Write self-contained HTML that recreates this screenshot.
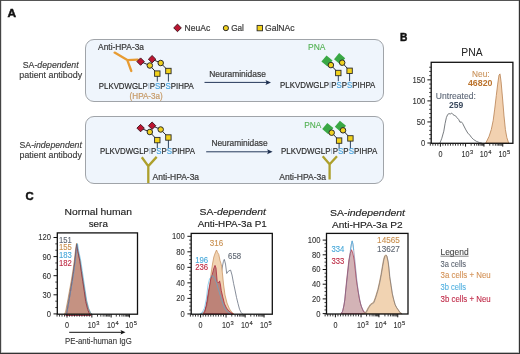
<!DOCTYPE html>
<html><head><meta charset="utf-8"><title>Figure</title>
<style>
html,body{margin:0;padding:0;background:#fff;}
body{width:520px;height:354px;overflow:hidden;}
svg{display:block;will-change:transform;}
svg text{font-family:"Liberation Sans", sans-serif;}
</style></head>
<body>
<svg width="520" height="354" viewBox="0 0 520 354">
<rect width="520" height="354" fill="#fff"/>
<rect x="0" y="0" width="520" height="1" fill="#555"/>
<rect x="0" y="0" width="1" height="354" fill="#444"/>
<rect x="1" y="1" width="1" height="352" fill="#ddd"/>
<rect x="518" y="1" width="1" height="352" fill="#d8d8d8"/>
<rect x="1" y="352" width="518" height="1" fill="#bbb"/>
<rect x="519" y="0" width="1" height="354" fill="#333"/>
<rect x="0" y="353" width="520" height="1" fill="#333"/>
<text x="7.5" y="17" font-size="11.3" fill="#111" stroke="#111" stroke-width="0.45" font-weight="bold" textLength="8.6" lengthAdjust="spacingAndGlyphs">A</text>
<text x="399.9" y="41.3" font-size="10.5" fill="#111" stroke="#111" stroke-width="0.45" font-weight="bold" textLength="7.4" lengthAdjust="spacingAndGlyphs">B</text>
<text x="25.4" y="200.1" font-size="11.6" fill="#111" stroke="#111" stroke-width="0.45" font-weight="bold" textLength="8.2" lengthAdjust="spacingAndGlyphs">C</text>
<path d="M177.5 24.099999999999998L181.3 27.9L177.5 31.7L173.7 27.9Z" fill="#BC1531" stroke="#3a1018" stroke-width="0.9"/>
<text x="184.6" y="30.6" font-size="8.4" fill="#3a3a3a" stroke="#3a3a3a" stroke-width="0.2" textLength="25.6" lengthAdjust="spacingAndGlyphs">NeuAc</text>
<circle cx="225.9" cy="28.1" r="2.6" fill="#F0D11E" stroke="#2a2a2a" stroke-width="1"/>
<text x="231.2" y="30.6" font-size="8.4" fill="#3a3a3a" stroke="#3a3a3a" stroke-width="0.2" textLength="12.7" lengthAdjust="spacingAndGlyphs">Gal</text>
<rect x="257.1" y="25.400000000000002" width="5.4" height="5.4" fill="#F2D21B" stroke="#2a2a2a" stroke-width="0.9"/>
<text x="265.0" y="30.6" font-size="8.4" fill="#3a3a3a" stroke="#3a3a3a" stroke-width="0.2" textLength="29.6" lengthAdjust="spacingAndGlyphs">GalNAc</text>
<rect x="85.5" y="39.5" width="298" height="62" rx="8.5" fill="#EFF5FC" stroke="#a0a4a9" stroke-width="1"/>
<rect x="85.5" y="116.5" width="298" height="67" rx="8.5" fill="#EFF5FC" stroke="#a0a4a9" stroke-width="1"/>
<text x="50.7" y="67.7" font-size="8.6" fill="#3a3a3a" stroke="#3a3a3a" stroke-width="0.15" text-anchor="middle" textLength="55.8" lengthAdjust="spacingAndGlyphs">SA-<tspan font-style="italic">dependent</tspan></text>
<text x="50.7" y="78.1" font-size="8.6" fill="#3a3a3a" stroke="#3a3a3a" stroke-width="0.15" text-anchor="middle" textLength="62.8" lengthAdjust="spacingAndGlyphs">patient antibody</text>
<text x="50.7" y="147.7" font-size="8.6" fill="#3a3a3a" stroke="#3a3a3a" stroke-width="0.15" text-anchor="middle" textLength="62.3" lengthAdjust="spacingAndGlyphs">SA-<tspan font-style="italic">independent</tspan></text>
<text x="50.7" y="157.9" font-size="8.6" fill="#3a3a3a" stroke="#3a3a3a" stroke-width="0.15" text-anchor="middle" textLength="62.3" lengthAdjust="spacingAndGlyphs">patient antibody</text>
<text x="98.1" y="50.2" font-size="8.2" fill="#3a3a3a" stroke="#3a3a3a" stroke-width="0.2" textLength="45.9" lengthAdjust="spacingAndGlyphs">Anti-HPA-3a</text>
<path d="M114.6 52.6L127.3 60.1L131.3 71M127.3 60.1L137.7 59.6" fill="none" stroke="#E79B32" stroke-width="2.3" stroke-linecap="round" stroke-linejoin="round"/>
<line x1="140.6" y1="61.6" x2="149.8" y2="65.5" stroke="#2a2a2a" stroke-width="1.0"/>
<line x1="149.8" y1="65.5" x2="157.3" y2="73.6" stroke="#2a2a2a" stroke-width="1.0"/>
<line x1="152.1" y1="59.2" x2="160.7" y2="63" stroke="#2a2a2a" stroke-width="1.0"/>
<line x1="160.7" y1="63" x2="168.4" y2="71.0" stroke="#2a2a2a" stroke-width="1.0"/>
<line x1="157.3" y1="73.6" x2="157.3" y2="81.6" stroke="#2d4460" stroke-width="1.0"/>
<line x1="168.4" y1="71.0" x2="168.4" y2="81.6" stroke="#2d4460" stroke-width="1.0"/>
<path d="M140.6 57.9L144.29999999999998 61.6L140.6 65.3L136.9 61.6Z" fill="#BC1531" stroke="#3a1018" stroke-width="0.9"/>
<path d="M152.1 55.5L155.79999999999998 59.2L152.1 62.900000000000006L148.4 59.2Z" fill="#BC1531" stroke="#3a1018" stroke-width="0.9"/>
<circle cx="149.8" cy="65.5" r="2.75" fill="#F0D11E" stroke="#2a2a2a" stroke-width="1"/>
<circle cx="160.7" cy="63" r="2.75" fill="#F0D11E" stroke="#2a2a2a" stroke-width="1"/>
<rect x="154.60000000000002" y="70.89999999999999" width="5.4" height="5.4" fill="#F2D21B" stroke="#2a2a2a" stroke-width="0.9"/>
<rect x="165.70000000000002" y="68.3" width="5.4" height="5.4" fill="#F2D21B" stroke="#2a2a2a" stroke-width="0.9"/>
<text x="98.8" y="88.6" font-size="8.8" fill="#2b2b2b" stroke="#2b2b2b" stroke-width="0.17" textLength="95" lengthAdjust="spacingAndGlyphs">PLKVDWGLP<tspan fill="#a8bdd2" stroke="#a8bdd2">I</tspan>P<tspan fill="#4aa3dc" stroke="#4aa3dc">S</tspan>P<tspan fill="#4aa3dc" stroke="#4aa3dc">S</tspan>PIHPA</text>
<text x="129.6" y="98.8" font-size="8.4" fill="#C79B68" stroke="#C79B68" stroke-width="0.2" textLength="33.1" lengthAdjust="spacingAndGlyphs">(HPA-3a)</text>
<line x1="204.5" y1="82.4" x2="267" y2="82.4" stroke="#26395a" stroke-width="1.0"/>
<path d="M271 82.4L265.5 79.9L266.6 82.4L265.5 84.9Z" fill="#1e3050"/>
<text x="209.2" y="76.8" font-size="8.4" fill="#3a3a3a" stroke="#3a3a3a" stroke-width="0.2" textLength="56.7" lengthAdjust="spacingAndGlyphs">Neuraminidase</text>
<text x="308.0" y="49.6" font-size="8.4" fill="#52B152" stroke="#52B152" stroke-width="0.1" textLength="17.4" lengthAdjust="spacingAndGlyphs">PNA</text>
<path d="M327.0 55.4L332.6 61.0L327.0 66.6L321.4 61.0Z" fill="#3aa845" transform="rotate(-5 327.0 61.0)"/>
<path d="M339.6 53.1L345.20000000000005 58.7L339.6 64.3L334.0 58.7Z" fill="#3aa845" transform="rotate(-5 339.6 58.7)"/>
<line x1="330.9" y1="65.1" x2="338.3" y2="73.0" stroke="#2a2a2a" stroke-width="1.0"/>
<line x1="342.2" y1="62.7" x2="349.6" y2="70.8" stroke="#2a2a2a" stroke-width="1.0"/>
<line x1="338.3" y1="73.0" x2="338.3" y2="81.2" stroke="#2d4460" stroke-width="1.0"/>
<line x1="349.6" y1="70.8" x2="349.6" y2="81.2" stroke="#2d4460" stroke-width="1.0"/>
<circle cx="330.9" cy="65.1" r="2.75" fill="#F0D11E" stroke="#2a2a2a" stroke-width="1"/>
<circle cx="342.2" cy="62.7" r="2.75" fill="#F0D11E" stroke="#2a2a2a" stroke-width="1"/>
<rect x="335.6" y="70.3" width="5.4" height="5.4" fill="#F2D21B" stroke="#2a2a2a" stroke-width="0.9"/>
<rect x="346.90000000000003" y="68.1" width="5.4" height="5.4" fill="#F2D21B" stroke="#2a2a2a" stroke-width="0.9"/>
<text x="280.1" y="87.9" font-size="8.8" fill="#2b2b2b" stroke="#2b2b2b" stroke-width="0.17" textLength="95.2" lengthAdjust="spacingAndGlyphs">PLKVDWGLP<tspan fill="#a8bdd2" stroke="#a8bdd2">I</tspan>P<tspan fill="#4aa3dc" stroke="#4aa3dc">S</tspan>P<tspan fill="#4aa3dc" stroke="#4aa3dc">S</tspan>PIHPA</text>
<line x1="140.6" y1="128.1" x2="149.8" y2="132.0" stroke="#2a2a2a" stroke-width="1.0"/>
<line x1="149.8" y1="132.0" x2="157.3" y2="140.1" stroke="#2a2a2a" stroke-width="1.0"/>
<line x1="152.1" y1="125.7" x2="160.7" y2="129.5" stroke="#2a2a2a" stroke-width="1.0"/>
<line x1="160.7" y1="129.5" x2="168.4" y2="137.5" stroke="#2a2a2a" stroke-width="1.0"/>
<line x1="157.3" y1="140.1" x2="157.3" y2="148.1" stroke="#2d4460" stroke-width="1.0"/>
<line x1="168.4" y1="137.5" x2="168.4" y2="148.1" stroke="#2d4460" stroke-width="1.0"/>
<path d="M140.6 124.39999999999999L144.29999999999998 128.1L140.6 131.79999999999998L136.9 128.1Z" fill="#BC1531" stroke="#3a1018" stroke-width="0.9"/>
<path d="M152.1 122.0L155.79999999999998 125.7L152.1 129.4L148.4 125.7Z" fill="#BC1531" stroke="#3a1018" stroke-width="0.9"/>
<circle cx="149.8" cy="132.0" r="2.75" fill="#F0D11E" stroke="#2a2a2a" stroke-width="1"/>
<circle cx="160.7" cy="129.5" r="2.75" fill="#F0D11E" stroke="#2a2a2a" stroke-width="1"/>
<rect x="154.60000000000002" y="137.4" width="5.4" height="5.4" fill="#F2D21B" stroke="#2a2a2a" stroke-width="0.9"/>
<rect x="165.70000000000002" y="134.8" width="5.4" height="5.4" fill="#F2D21B" stroke="#2a2a2a" stroke-width="0.9"/>
<text x="99.9" y="154.2" font-size="8.8" fill="#2b2b2b" stroke="#2b2b2b" stroke-width="0.17" textLength="95" lengthAdjust="spacingAndGlyphs">PLKVDWGLP<tspan fill="#a8bdd2" stroke="#a8bdd2">I</tspan>P<tspan fill="#4aa3dc" stroke="#4aa3dc">S</tspan>P<tspan fill="#4aa3dc" stroke="#4aa3dc">S</tspan>PIHPA</text>
<path d="M141.8 157.2L148.3 166.1L156.7 156.9M148.3 166.1L148.3 183" fill="none" stroke="#ADA02C" stroke-width="2.3"/>
<text x="152.6" y="180.2" font-size="8.2" fill="#3a3a3a" stroke="#3a3a3a" stroke-width="0.2" textLength="46.5" lengthAdjust="spacingAndGlyphs">Anti-HPA-3a</text>
<line x1="206.2" y1="151.8" x2="268.5" y2="151.8" stroke="#26395a" stroke-width="1.0"/>
<path d="M272.6 151.8L267.1 149.3L268.2 151.8L267.1 154.3Z" fill="#1e3050"/>
<text x="211.4" y="146.1" font-size="8.4" fill="#3a3a3a" stroke="#3a3a3a" stroke-width="0.2" textLength="56.3" lengthAdjust="spacingAndGlyphs">Neuraminidase</text>
<text x="304.2" y="127.9" font-size="8.4" fill="#52B152" stroke="#52B152" stroke-width="0.1" textLength="17.1" lengthAdjust="spacingAndGlyphs">PNA</text>
<path d="M327.8 123.0L333.40000000000003 128.6L327.8 134.2L322.2 128.6Z" fill="#3aa845" transform="rotate(-5 327.8 128.6)"/>
<path d="M340.40000000000003 120.7L346.00000000000006 126.3L340.40000000000003 131.9L334.8 126.3Z" fill="#3aa845" transform="rotate(-5 340.40000000000003 126.3)"/>
<line x1="331.7" y1="132.7" x2="339.1" y2="140.6" stroke="#2a2a2a" stroke-width="1.0"/>
<line x1="343.0" y1="130.3" x2="350.40000000000003" y2="138.39999999999998" stroke="#2a2a2a" stroke-width="1.0"/>
<line x1="339.1" y1="140.6" x2="339.1" y2="148.8" stroke="#2d4460" stroke-width="1.0"/>
<line x1="350.40000000000003" y1="138.39999999999998" x2="350.40000000000003" y2="148.8" stroke="#2d4460" stroke-width="1.0"/>
<circle cx="331.7" cy="132.7" r="2.75" fill="#F0D11E" stroke="#2a2a2a" stroke-width="1"/>
<circle cx="343.0" cy="130.3" r="2.75" fill="#F0D11E" stroke="#2a2a2a" stroke-width="1"/>
<rect x="336.40000000000003" y="137.9" width="5.4" height="5.4" fill="#F2D21B" stroke="#2a2a2a" stroke-width="0.9"/>
<rect x="347.70000000000005" y="135.7" width="5.4" height="5.4" fill="#F2D21B" stroke="#2a2a2a" stroke-width="0.9"/>
<text x="281.0" y="154.3" font-size="8.8" fill="#2b2b2b" stroke="#2b2b2b" stroke-width="0.17" textLength="96.2" lengthAdjust="spacingAndGlyphs">PLKVDWGLP<tspan fill="#a8bdd2" stroke="#a8bdd2">I</tspan>P<tspan fill="#4aa3dc" stroke="#4aa3dc">S</tspan>P<tspan fill="#4aa3dc" stroke="#4aa3dc">S</tspan>PIHPA</text>
<path d="M322.7 156.2L329.6 164.3L337 156.2M329.6 164.3L329.6 179.5" fill="none" stroke="#ADA02C" stroke-width="2.3"/>
<text x="279.2" y="180.4" font-size="8.2" fill="#3a3a3a" stroke="#3a3a3a" stroke-width="0.2" textLength="46.9" lengthAdjust="spacingAndGlyphs">Anti-HPA-3a</text>
<text x="471.9" y="56.3" font-size="10.3" fill="#222" text-anchor="middle" textLength="21.3" lengthAdjust="spacingAndGlyphs">PNA</text>
<line x1="427.4" y1="143.0" x2="431.2" y2="143.0" stroke="#111" stroke-width="1"/>
<text x="425.2" y="145.9" font-size="8.5" fill="#333" stroke="#333" stroke-width="0.1" text-anchor="end" textLength="4.25" lengthAdjust="spacingAndGlyphs">0</text>
<line x1="427.4" y1="121.95" x2="431.2" y2="121.95" stroke="#111" stroke-width="1"/>
<text x="425.2" y="124.85000000000001" font-size="8.5" fill="#333" stroke="#333" stroke-width="0.1" text-anchor="end" textLength="8.5" lengthAdjust="spacingAndGlyphs">50</text>
<line x1="427.4" y1="100.9" x2="431.2" y2="100.9" stroke="#111" stroke-width="1"/>
<text x="425.2" y="103.80000000000001" font-size="8.5" fill="#333" stroke="#333" stroke-width="0.1" text-anchor="end" textLength="12.75" lengthAdjust="spacingAndGlyphs">100</text>
<line x1="427.4" y1="79.85" x2="431.2" y2="79.85" stroke="#111" stroke-width="1"/>
<text x="425.2" y="82.75" font-size="8.5" fill="#333" stroke="#333" stroke-width="0.1" text-anchor="end" textLength="12.75" lengthAdjust="spacingAndGlyphs">150</text>
<line x1="429.2" y1="138.79" x2="431.2" y2="138.79" stroke="#111" stroke-width="0.8"/>
<line x1="429.2" y1="134.57999999999998" x2="431.2" y2="134.57999999999998" stroke="#111" stroke-width="0.8"/>
<line x1="429.2" y1="130.37" x2="431.2" y2="130.37" stroke="#111" stroke-width="0.8"/>
<line x1="429.2" y1="126.16" x2="431.2" y2="126.16" stroke="#111" stroke-width="0.8"/>
<line x1="429.2" y1="117.74" x2="431.2" y2="117.74" stroke="#111" stroke-width="0.8"/>
<line x1="429.2" y1="113.53" x2="431.2" y2="113.53" stroke="#111" stroke-width="0.8"/>
<line x1="429.2" y1="109.32" x2="431.2" y2="109.32" stroke="#111" stroke-width="0.8"/>
<line x1="429.2" y1="105.11" x2="431.2" y2="105.11" stroke="#111" stroke-width="0.8"/>
<line x1="429.2" y1="96.69" x2="431.2" y2="96.69" stroke="#111" stroke-width="0.8"/>
<line x1="429.2" y1="92.47999999999999" x2="431.2" y2="92.47999999999999" stroke="#111" stroke-width="0.8"/>
<line x1="429.2" y1="88.27" x2="431.2" y2="88.27" stroke="#111" stroke-width="0.8"/>
<line x1="429.2" y1="84.06" x2="431.2" y2="84.06" stroke="#111" stroke-width="0.8"/>
<line x1="429.2" y1="75.63999999999999" x2="431.2" y2="75.63999999999999" stroke="#111" stroke-width="0.8"/>
<line x1="429.2" y1="71.42999999999999" x2="431.2" y2="71.42999999999999" stroke="#111" stroke-width="0.8"/>
<line x1="429.2" y1="67.22" x2="431.2" y2="67.22" stroke="#111" stroke-width="0.8"/>
<path d="M439.9 143.2 L441.8 138.3 L443.8 131.2 L445.1 123.4 L446.4 117.5 L447.7 114.5 L449 113.6 L450.3 114 L451.6 113 L452.9 114.5 L454.2 115.3 L455.5 115.8 L456.8 117.5 L458.7 119.5 L460 122.3 L461.3 121.8 L462.6 123.4 L463.9 126 L465.9 129.9 L467.8 133.1 L469.8 135.1 L471.7 137.7 L473.7 139.6 L476.3 141.3 L479.5 142.6 L482 143.2" fill="none" stroke="#555a60" stroke-width="0.8"/>
<path d="M485.7 143.2 L487.3 140 L489.1 136.3 L491.3 129.5 L493.2 120.4 L494.7 109.1 L496.3 95.5 L497.7 84.1 L499 75.1 L500 73.9 L501.1 81.9 L502.7 100 L504 115.9 L505.4 129.5 L506.8 137.4 L508.3 142 L509 143.2 Z" fill="#F2D1B0" stroke="#B88050" stroke-width="0.8"/>
<rect x="431.2" y="62.3" width="81.69999999999999" height="81.00000000000001" fill="none" stroke="#111" stroke-width="1.3"/>
<line x1="440.4" y1="143.3" x2="440.4" y2="146.60000000000002" stroke="#111" stroke-width="1"/>
<line x1="465.54999999999995" y1="143.3" x2="465.54999999999995" y2="146.60000000000002" stroke="#111" stroke-width="1"/>
<line x1="483.95" y1="143.3" x2="483.95" y2="146.60000000000002" stroke="#111" stroke-width="1"/>
<line x1="502.75" y1="143.3" x2="502.75" y2="146.60000000000002" stroke="#111" stroke-width="1"/>
<line x1="471.14915791935" y1="143.3" x2="471.14915791935" y2="145.70000000000002" stroke="#222" stroke-width="0.9"/>
<line x1="474.4244553377857" y1="143.3" x2="474.4244553377857" y2="145.70000000000002" stroke="#222" stroke-width="0.9"/>
<line x1="476.7483158387001" y1="143.3" x2="476.7483158387001" y2="145.70000000000002" stroke="#222" stroke-width="0.9"/>
<line x1="478.55084208064994" y1="143.3" x2="478.55084208064994" y2="145.70000000000002" stroke="#222" stroke-width="0.9"/>
<line x1="480.02361325713576" y1="143.3" x2="480.02361325713576" y2="145.70000000000002" stroke="#222" stroke-width="0.9"/>
<line x1="481.26882354426516" y1="143.3" x2="481.26882354426516" y2="145.70000000000002" stroke="#222" stroke-width="0.9"/>
<line x1="482.3474737580501" y1="143.3" x2="482.3474737580501" y2="145.70000000000002" stroke="#222" stroke-width="0.9"/>
<line x1="483.2989106755714" y1="143.3" x2="483.2989106755714" y2="145.70000000000002" stroke="#222" stroke-width="0.9"/>
<line x1="489.74915791935" y1="143.3" x2="489.74915791935" y2="145.70000000000002" stroke="#222" stroke-width="0.9"/>
<line x1="493.0244553377857" y1="143.3" x2="493.0244553377857" y2="145.70000000000002" stroke="#222" stroke-width="0.9"/>
<line x1="495.3483158387001" y1="143.3" x2="495.3483158387001" y2="145.70000000000002" stroke="#222" stroke-width="0.9"/>
<line x1="497.15084208064997" y1="143.3" x2="497.15084208064997" y2="145.70000000000002" stroke="#222" stroke-width="0.9"/>
<line x1="498.6236132571358" y1="143.3" x2="498.6236132571358" y2="145.70000000000002" stroke="#222" stroke-width="0.9"/>
<line x1="499.8688235442652" y1="143.3" x2="499.8688235442652" y2="145.70000000000002" stroke="#222" stroke-width="0.9"/>
<line x1="500.94747375805014" y1="143.3" x2="500.94747375805014" y2="145.70000000000002" stroke="#222" stroke-width="0.9"/>
<line x1="501.8989106755714" y1="143.3" x2="501.8989106755714" y2="145.70000000000002" stroke="#222" stroke-width="0.9"/>
<line x1="442.91499999999996" y1="143.3" x2="442.91499999999996" y2="145.70000000000002" stroke="#222" stroke-width="0.9"/>
<line x1="445.42999999999995" y1="143.3" x2="445.42999999999995" y2="145.70000000000002" stroke="#222" stroke-width="0.9"/>
<line x1="447.945" y1="143.3" x2="447.945" y2="145.70000000000002" stroke="#222" stroke-width="0.9"/>
<line x1="450.46" y1="143.3" x2="450.46" y2="145.70000000000002" stroke="#222" stroke-width="0.9"/>
<line x1="452.97499999999997" y1="143.3" x2="452.97499999999997" y2="145.70000000000002" stroke="#222" stroke-width="0.9"/>
<line x1="455.48999999999995" y1="143.3" x2="455.48999999999995" y2="145.70000000000002" stroke="#222" stroke-width="0.9"/>
<line x1="458.00499999999994" y1="143.3" x2="458.00499999999994" y2="145.70000000000002" stroke="#222" stroke-width="0.9"/>
<line x1="460.52" y1="143.3" x2="460.52" y2="145.70000000000002" stroke="#222" stroke-width="0.9"/>
<line x1="463.03499999999997" y1="143.3" x2="463.03499999999997" y2="145.70000000000002" stroke="#222" stroke-width="0.9"/>
<line x1="437.885" y1="143.3" x2="437.885" y2="145.70000000000002" stroke="#222" stroke-width="0.9"/>
<line x1="435.37" y1="143.3" x2="435.37" y2="145.70000000000002" stroke="#222" stroke-width="0.9"/>
<line x1="432.85499999999996" y1="143.3" x2="432.85499999999996" y2="145.70000000000002" stroke="#222" stroke-width="0.9"/>
<line x1="430.34" y1="143.3" x2="430.34" y2="145.70000000000002" stroke="#222" stroke-width="0.9"/>
<text x="440.4" y="156.9" font-size="8.6" fill="#333" stroke="#333" stroke-width="0.12" text-anchor="middle" textLength="4.0" lengthAdjust="spacingAndGlyphs">0</text>
<text x="461.4" y="156.9" font-size="8.6" fill="#333" stroke="#333" stroke-width="0.12" textLength="8.0" lengthAdjust="spacingAndGlyphs">10</text>
<text x="469.9" y="154.0" font-size="6.0" fill="#333" stroke="#333" stroke-width="0.15" textLength="3.2" lengthAdjust="spacingAndGlyphs">3</text>
<text x="479.8" y="156.9" font-size="8.6" fill="#333" stroke="#333" stroke-width="0.12" textLength="8.0" lengthAdjust="spacingAndGlyphs">10</text>
<text x="488.3" y="154.0" font-size="6.0" fill="#333" stroke="#333" stroke-width="0.15" textLength="3.2" lengthAdjust="spacingAndGlyphs">4</text>
<text x="498.6" y="156.9" font-size="8.6" fill="#333" stroke="#333" stroke-width="0.12" textLength="8.0" lengthAdjust="spacingAndGlyphs">10</text>
<text x="507.1" y="154.0" font-size="6.0" fill="#333" stroke="#333" stroke-width="0.15" textLength="3.2" lengthAdjust="spacingAndGlyphs">5</text>
<text x="480.8" y="77.3" font-size="8.4" fill="#C9925A" stroke="#C9925A" stroke-width="0.1" text-anchor="middle" textLength="17.5" lengthAdjust="spacingAndGlyphs">Neu:</text>
<text x="480.2" y="86.3" font-size="8.6" fill="#BC742E" text-anchor="middle" font-weight="bold" textLength="24.5" lengthAdjust="spacingAndGlyphs">46820</text>
<text x="455.8" y="98.7" font-size="8.4" fill="#5b6575" stroke="#5b6575" stroke-width="0.1" text-anchor="middle" textLength="40" lengthAdjust="spacingAndGlyphs">Untreated:</text>
<text x="456.2" y="108.4" font-size="8.6" fill="#3b4a5e" text-anchor="middle" font-weight="bold" textLength="14.3" lengthAdjust="spacingAndGlyphs">259</text>
<text x="98.3" y="215.4" font-size="9.4" fill="#222" stroke="#222" stroke-width="0.14" text-anchor="middle" textLength="67.4" lengthAdjust="spacingAndGlyphs">Normal human</text>
<text x="98.3" y="227.2" font-size="9.4" fill="#222" stroke="#222" stroke-width="0.14" text-anchor="middle" textLength="19.2" lengthAdjust="spacingAndGlyphs">sera</text>
<line x1="53.5" y1="313.9" x2="57.3" y2="313.9" stroke="#111" stroke-width="1"/>
<text x="50.9" y="316.79999999999995" font-size="8.5" fill="#333" stroke="#333" stroke-width="0.1" text-anchor="end" textLength="4.25" lengthAdjust="spacingAndGlyphs">0</text>
<line x1="53.5" y1="294.79999999999995" x2="57.3" y2="294.79999999999995" stroke="#111" stroke-width="1"/>
<text x="50.9" y="297.69999999999993" font-size="8.5" fill="#333" stroke="#333" stroke-width="0.1" text-anchor="end" textLength="8.5" lengthAdjust="spacingAndGlyphs">30</text>
<line x1="53.5" y1="275.7" x2="57.3" y2="275.7" stroke="#111" stroke-width="1"/>
<text x="50.9" y="278.59999999999997" font-size="8.5" fill="#333" stroke="#333" stroke-width="0.1" text-anchor="end" textLength="8.5" lengthAdjust="spacingAndGlyphs">60</text>
<line x1="53.5" y1="256.59999999999997" x2="57.3" y2="256.59999999999997" stroke="#111" stroke-width="1"/>
<text x="50.9" y="259.49999999999994" font-size="8.5" fill="#333" stroke="#333" stroke-width="0.1" text-anchor="end" textLength="8.5" lengthAdjust="spacingAndGlyphs">90</text>
<line x1="53.5" y1="237.49999999999997" x2="57.3" y2="237.49999999999997" stroke="#111" stroke-width="1"/>
<text x="50.9" y="240.39999999999998" font-size="8.5" fill="#333" stroke="#333" stroke-width="0.1" text-anchor="end" textLength="12.75" lengthAdjust="spacingAndGlyphs">120</text>
<line x1="55.3" y1="307.5333333333333" x2="57.3" y2="307.5333333333333" stroke="#111" stroke-width="0.8"/>
<line x1="55.3" y1="301.16666666666663" x2="57.3" y2="301.16666666666663" stroke="#111" stroke-width="0.8"/>
<line x1="55.3" y1="288.4333333333333" x2="57.3" y2="288.4333333333333" stroke="#111" stroke-width="0.8"/>
<line x1="55.3" y1="282.06666666666666" x2="57.3" y2="282.06666666666666" stroke="#111" stroke-width="0.8"/>
<line x1="55.3" y1="269.3333333333333" x2="57.3" y2="269.3333333333333" stroke="#111" stroke-width="0.8"/>
<line x1="55.3" y1="262.96666666666664" x2="57.3" y2="262.96666666666664" stroke="#111" stroke-width="0.8"/>
<line x1="55.3" y1="250.2333333333333" x2="57.3" y2="250.2333333333333" stroke="#111" stroke-width="0.8"/>
<line x1="55.3" y1="243.86666666666665" x2="57.3" y2="243.86666666666665" stroke="#111" stroke-width="0.8"/>
<path d="M64.5 314.0 L65.5 312.0 L67.8 300.0 L69.6 290.0 L71.4 280.0 L73.0 270.0 L74.4 260.0 L75.5 250.0 L76.5 243.2 L77.7 250.0 L79.9 260.0 L81.4 270.0 L83.0 280.0 L84.6 290.0 L86.2 300.0 L88.3 308.0 L90.3 312.5 L92.0 314.0 Z" fill="#F1D3B2" fill-opacity="1" stroke="#C48A55" stroke-width="0.7" stroke-linejoin="round"/>
<path d="M65.8 315.5 L66.7 313.5 L68.8 301.5 L70.5 291.5 L72.1 281.5 L73.6 271.5 L74.9 261.5 L75.9 251.5 L76.8 244.7 L77.9 251.5 L79.9 261.5 L81.3 271.5 L82.8 281.5 L84.3 291.5 L85.7 301.5 L87.7 309.5 L89.5 314.0 L91.1 315.5 Z" fill="rgb(145,66,72)" fill-opacity="0.45" stroke="#9a2c40" stroke-width="0.9" stroke-linejoin="round"/>
<path d="M66.1 314.3 L67.0 312.3 L69.2 300.3 L70.9 290.3 L72.7 280.3 L74.2 270.3 L75.5 260.3 L76.5 250.3 L77.5 243.5 L78.6 250.3 L80.7 260.3 L82.2 270.3 L83.7 280.3 L85.2 290.3 L86.7 300.3 L88.7 308.3 L90.6 312.8 L92.2 314.3" fill="none" fill-opacity="1" stroke="#4FAEDD" stroke-width="0.6" stroke-linejoin="round"/>
<path d="M65.1 314.8 L66.0 312.8 L68.3 300.8 L70.0 290.8 L71.8 280.8 L73.3 270.8 L74.7 260.8 L75.7 250.8 L76.7 244.0 L77.9 250.8 L80.0 260.8 L81.5 270.8 L83.0 280.8 L84.6 290.8 L86.1 300.8 L88.1 308.8 L90.1 313.3 L91.7 314.8" fill="none" fill-opacity="1" stroke="#5f6878" stroke-width="0.5" stroke-linejoin="round"/>
<rect x="57.3" y="232.9" width="80.2" height="81.29999999999998" fill="none" stroke="#111" stroke-width="1.3"/>
<line x1="67.0" y1="314.2" x2="67.0" y2="317.5" stroke="#111" stroke-width="1"/>
<line x1="91.85000000000001" y1="314.2" x2="91.85000000000001" y2="317.5" stroke="#111" stroke-width="1"/>
<line x1="111.15" y1="314.2" x2="111.15" y2="317.5" stroke="#111" stroke-width="1"/>
<line x1="129.45" y1="314.2" x2="129.45" y2="317.5" stroke="#111" stroke-width="1"/>
<line x1="97.50936391848285" y1="314.2" x2="97.50936391848285" y2="316.59999999999997" stroke="#222" stroke-width="0.9"/>
<line x1="100.81987958872966" y1="314.2" x2="100.81987958872966" y2="316.59999999999997" stroke="#222" stroke-width="0.9"/>
<line x1="103.1687278369657" y1="314.2" x2="103.1687278369657" y2="316.59999999999997" stroke="#222" stroke-width="0.9"/>
<line x1="104.99063608151715" y1="314.2" x2="104.99063608151715" y2="316.59999999999997" stroke="#222" stroke-width="0.9"/>
<line x1="106.4792435072125" y1="314.2" x2="106.4792435072125" y2="316.59999999999997" stroke="#222" stroke-width="0.9"/>
<line x1="107.73784315226803" y1="314.2" x2="107.73784315226803" y2="316.59999999999997" stroke="#222" stroke-width="0.9"/>
<line x1="108.82809175544854" y1="314.2" x2="108.82809175544854" y2="316.59999999999997" stroke="#222" stroke-width="0.9"/>
<line x1="109.7897591774593" y1="314.2" x2="109.7897591774593" y2="316.59999999999997" stroke="#222" stroke-width="0.9"/>
<line x1="116.30936391848284" y1="314.2" x2="116.30936391848284" y2="316.59999999999997" stroke="#222" stroke-width="0.9"/>
<line x1="119.61987958872966" y1="314.2" x2="119.61987958872966" y2="316.59999999999997" stroke="#222" stroke-width="0.9"/>
<line x1="121.9687278369657" y1="314.2" x2="121.9687278369657" y2="316.59999999999997" stroke="#222" stroke-width="0.9"/>
<line x1="123.79063608151715" y1="314.2" x2="123.79063608151715" y2="316.59999999999997" stroke="#222" stroke-width="0.9"/>
<line x1="125.2792435072125" y1="314.2" x2="125.2792435072125" y2="316.59999999999997" stroke="#222" stroke-width="0.9"/>
<line x1="126.53784315226802" y1="314.2" x2="126.53784315226802" y2="316.59999999999997" stroke="#222" stroke-width="0.9"/>
<line x1="127.62809175544854" y1="314.2" x2="127.62809175544854" y2="316.59999999999997" stroke="#222" stroke-width="0.9"/>
<line x1="128.5897591774593" y1="314.2" x2="128.5897591774593" y2="316.59999999999997" stroke="#222" stroke-width="0.9"/>
<line x1="69.485" y1="314.2" x2="69.485" y2="316.59999999999997" stroke="#222" stroke-width="0.9"/>
<line x1="71.97" y1="314.2" x2="71.97" y2="316.59999999999997" stroke="#222" stroke-width="0.9"/>
<line x1="74.455" y1="314.2" x2="74.455" y2="316.59999999999997" stroke="#222" stroke-width="0.9"/>
<line x1="76.94" y1="314.2" x2="76.94" y2="316.59999999999997" stroke="#222" stroke-width="0.9"/>
<line x1="79.42500000000001" y1="314.2" x2="79.42500000000001" y2="316.59999999999997" stroke="#222" stroke-width="0.9"/>
<line x1="81.91000000000001" y1="314.2" x2="81.91000000000001" y2="316.59999999999997" stroke="#222" stroke-width="0.9"/>
<line x1="84.39500000000001" y1="314.2" x2="84.39500000000001" y2="316.59999999999997" stroke="#222" stroke-width="0.9"/>
<line x1="86.88000000000001" y1="314.2" x2="86.88000000000001" y2="316.59999999999997" stroke="#222" stroke-width="0.9"/>
<line x1="89.36500000000001" y1="314.2" x2="89.36500000000001" y2="316.59999999999997" stroke="#222" stroke-width="0.9"/>
<line x1="64.515" y1="314.2" x2="64.515" y2="316.59999999999997" stroke="#222" stroke-width="0.9"/>
<line x1="62.03" y1="314.2" x2="62.03" y2="316.59999999999997" stroke="#222" stroke-width="0.9"/>
<line x1="59.544999999999995" y1="314.2" x2="59.544999999999995" y2="316.59999999999997" stroke="#222" stroke-width="0.9"/>
<line x1="57.059999999999995" y1="314.2" x2="57.059999999999995" y2="316.59999999999997" stroke="#222" stroke-width="0.9"/>
<text x="67.0" y="328.2" font-size="8.6" fill="#333" stroke="#333" stroke-width="0.12" text-anchor="middle" textLength="4.0" lengthAdjust="spacingAndGlyphs">0</text>
<text x="87.7" y="328.2" font-size="8.6" fill="#333" stroke="#333" stroke-width="0.12" textLength="8.0" lengthAdjust="spacingAndGlyphs">10</text>
<text x="96.2" y="325.3" font-size="6.0" fill="#333" stroke="#333" stroke-width="0.15" textLength="3.2" lengthAdjust="spacingAndGlyphs">3</text>
<text x="107.0" y="328.2" font-size="8.6" fill="#333" stroke="#333" stroke-width="0.12" textLength="8.0" lengthAdjust="spacingAndGlyphs">10</text>
<text x="115.5" y="325.3" font-size="6.0" fill="#333" stroke="#333" stroke-width="0.15" textLength="3.2" lengthAdjust="spacingAndGlyphs">4</text>
<text x="125.3" y="328.2" font-size="8.6" fill="#333" stroke="#333" stroke-width="0.12" textLength="8.0" lengthAdjust="spacingAndGlyphs">10</text>
<text x="133.8" y="325.3" font-size="6.0" fill="#333" stroke="#333" stroke-width="0.15" textLength="3.2" lengthAdjust="spacingAndGlyphs">5</text>
<text x="59.1" y="243.2" font-size="8.8" fill="#5e6672" stroke="#5e6672" stroke-width="0.12" textLength="12.8" lengthAdjust="spacingAndGlyphs">151</text>
<text x="59.1" y="250.3" font-size="8.8" fill="#C99050" stroke="#C99050" stroke-width="0.12" textLength="12.8" lengthAdjust="spacingAndGlyphs">155</text>
<text x="59.1" y="258.2" font-size="8.8" fill="#49A9DA" stroke="#49A9DA" stroke-width="0.12" textLength="12.8" lengthAdjust="spacingAndGlyphs">183</text>
<text x="59.1" y="266.3" font-size="8.8" fill="#BE2C45" stroke="#BE2C45" stroke-width="0.12" textLength="12.8" lengthAdjust="spacingAndGlyphs">182</text>
<line x1="69.2" y1="332.3" x2="122" y2="332.3" stroke="#111" stroke-width="1"/>
<path d="M125.5 332.3L120.5 330.0L121.5 332.3L120.5 334.6Z" fill="#111"/>
<text x="65.0" y="343.8" font-size="9.6" fill="#333" stroke="#333" stroke-width="0.1" textLength="66.7" lengthAdjust="spacingAndGlyphs">PE-anti-human IgG</text>
<text x="232.8" y="215.4" font-size="9.4" fill="#222" stroke="#222" stroke-width="0.14" text-anchor="middle" textLength="66.4" lengthAdjust="spacingAndGlyphs">SA-<tspan font-style="italic">dependent</tspan></text>
<text x="232.3" y="226.5" font-size="9.4" fill="#222" stroke="#222" stroke-width="0.14" text-anchor="middle" textLength="69.2" lengthAdjust="spacingAndGlyphs">Anti-HPA-3a P1</text>
<line x1="187.39999999999998" y1="313.9" x2="191.2" y2="313.9" stroke="#111" stroke-width="1"/>
<text x="184.8" y="316.79999999999995" font-size="8.5" fill="#333" stroke="#333" stroke-width="0.1" text-anchor="end" textLength="4.25" lengthAdjust="spacingAndGlyphs">0</text>
<line x1="187.39999999999998" y1="298.38" x2="191.2" y2="298.38" stroke="#111" stroke-width="1"/>
<text x="184.8" y="301.28" font-size="8.5" fill="#333" stroke="#333" stroke-width="0.1" text-anchor="end" textLength="8.5" lengthAdjust="spacingAndGlyphs">20</text>
<line x1="187.39999999999998" y1="282.85999999999996" x2="191.2" y2="282.85999999999996" stroke="#111" stroke-width="1"/>
<text x="184.8" y="285.75999999999993" font-size="8.5" fill="#333" stroke="#333" stroke-width="0.1" text-anchor="end" textLength="8.5" lengthAdjust="spacingAndGlyphs">40</text>
<line x1="187.39999999999998" y1="267.34" x2="191.2" y2="267.34" stroke="#111" stroke-width="1"/>
<text x="184.8" y="270.23999999999995" font-size="8.5" fill="#333" stroke="#333" stroke-width="0.1" text-anchor="end" textLength="8.5" lengthAdjust="spacingAndGlyphs">60</text>
<line x1="187.39999999999998" y1="251.82" x2="191.2" y2="251.82" stroke="#111" stroke-width="1"/>
<text x="184.8" y="254.72" font-size="8.5" fill="#333" stroke="#333" stroke-width="0.1" text-anchor="end" textLength="8.5" lengthAdjust="spacingAndGlyphs">80</text>
<line x1="187.39999999999998" y1="236.29999999999995" x2="191.2" y2="236.29999999999995" stroke="#111" stroke-width="1"/>
<text x="184.8" y="239.19999999999996" font-size="8.5" fill="#333" stroke="#333" stroke-width="0.1" text-anchor="end" textLength="12.75" lengthAdjust="spacingAndGlyphs">100</text>
<line x1="189.2" y1="310.02" x2="191.2" y2="310.02" stroke="#111" stroke-width="0.8"/>
<line x1="189.2" y1="306.14" x2="191.2" y2="306.14" stroke="#111" stroke-width="0.8"/>
<line x1="189.2" y1="302.26" x2="191.2" y2="302.26" stroke="#111" stroke-width="0.8"/>
<line x1="189.2" y1="294.5" x2="191.2" y2="294.5" stroke="#111" stroke-width="0.8"/>
<line x1="189.2" y1="290.62" x2="191.2" y2="290.62" stroke="#111" stroke-width="0.8"/>
<line x1="189.2" y1="286.73999999999995" x2="191.2" y2="286.73999999999995" stroke="#111" stroke-width="0.8"/>
<line x1="189.2" y1="278.97999999999996" x2="191.2" y2="278.97999999999996" stroke="#111" stroke-width="0.8"/>
<line x1="189.2" y1="275.09999999999997" x2="191.2" y2="275.09999999999997" stroke="#111" stroke-width="0.8"/>
<line x1="189.2" y1="271.21999999999997" x2="191.2" y2="271.21999999999997" stroke="#111" stroke-width="0.8"/>
<line x1="189.2" y1="263.46" x2="191.2" y2="263.46" stroke="#111" stroke-width="0.8"/>
<line x1="189.2" y1="259.58" x2="191.2" y2="259.58" stroke="#111" stroke-width="0.8"/>
<line x1="189.2" y1="255.7" x2="191.2" y2="255.7" stroke="#111" stroke-width="0.8"/>
<line x1="189.2" y1="247.93999999999997" x2="191.2" y2="247.93999999999997" stroke="#111" stroke-width="0.8"/>
<line x1="189.2" y1="244.05999999999997" x2="191.2" y2="244.05999999999997" stroke="#111" stroke-width="0.8"/>
<line x1="189.2" y1="240.17999999999998" x2="191.2" y2="240.17999999999998" stroke="#111" stroke-width="0.8"/>
<path d="M201.0 313.9 L204.0 312.0 L206.5 306.0 L208.2 296.0 L210.0 288.0 L212.3 281.0 L214.5 278.0 L217.0 277.0 L219.5 277.0 L221.2 274.0 L222.3 267.0 L223.4 261.5 L224.3 259.4 L225.5 264.0 L226.7 273.5 L228.5 271.0 L230.6 270.1 L232.0 275.0 L233.6 283.5 L235.0 290.0 L236.5 297.4 L238.0 303.5 L239.5 309.2 L241.0 312.3 L242.5 313.9" fill="none" fill-opacity="1" stroke="#5f6878" stroke-width="0.75" stroke-linejoin="round"/>
<path d="M203.0 313.9 L205.0 311.0 L207.0 305.0 L208.5 296.0 L210.0 284.0 L211.0 274.0 L212.5 264.0 L213.8 257.0 L215.2 253.0 L216.5 250.0 L217.6 252.5 L218.8 254.5 L219.5 258.0 L220.1 260.8 L221.0 263.5 L221.7 266.8 L222.6 275.0 L223.5 284.0 L225.0 295.0 L227.0 303.0 L229.5 309.0 L232.0 312.4 L234.0 313.9 Z" fill="#F1D3B2" fill-opacity="1" stroke="#C48A55" stroke-width="0.7" stroke-linejoin="round"/>
<path d="M203.5 313.9 L205.0 311.0 L206.9 301.3 L208.3 292.0 L209.8 284.2 L211.0 278.0 L212.3 274.4 L213.6 269.0 L215.0 265.4 L216.0 268.0 L217.2 281.7 L218.5 283.0 L219.6 280.9 L220.5 285.0 L221.3 290.7 L222.8 297.0 L224.5 303.8 L226.5 308.0 L228.5 310.5 L230.3 312.0 L233.0 313.9 Z" fill="rgb(145,66,72)" fill-opacity="0.55" stroke="#A82840" stroke-width="0.8" stroke-linejoin="round"/>
<path d="M199.5 313.9 L202.0 312.8 L204.5 308.0 L206.5 298.0 L207.9 285.5 L209.5 279.0 L211.8 275.6 L213.5 276.5 L215.0 279.0 L216.5 283.0 L218.0 288.0 L219.5 293.0 L221.0 298.0 L223.0 304.0 L225.0 309.0 L228.0 312.5 L231.0 313.9" fill="none" fill-opacity="0.75" stroke="#4FAEDD" stroke-width="0.6" stroke-linejoin="round"/>
<rect x="191.2" y="233.4" width="81.10000000000002" height="80.79999999999998" fill="none" stroke="#111" stroke-width="1.3"/>
<line x1="200.6" y1="314.2" x2="200.6" y2="317.5" stroke="#111" stroke-width="1"/>
<line x1="226.05" y1="314.2" x2="226.05" y2="317.5" stroke="#111" stroke-width="1"/>
<line x1="245.15" y1="314.2" x2="245.15" y2="317.5" stroke="#111" stroke-width="1"/>
<line x1="264.04999999999995" y1="314.2" x2="264.04999999999995" y2="317.5" stroke="#111" stroke-width="1"/>
<line x1="231.76956991761566" y1="314.2" x2="231.76956991761566" y2="316.59999999999997" stroke="#222" stroke-width="0.9"/>
<line x1="235.11530383967357" y1="314.2" x2="235.11530383967357" y2="316.59999999999997" stroke="#222" stroke-width="0.9"/>
<line x1="237.48913983523127" y1="314.2" x2="237.48913983523127" y2="316.59999999999997" stroke="#222" stroke-width="0.9"/>
<line x1="239.33043008238434" y1="314.2" x2="239.33043008238434" y2="316.59999999999997" stroke="#222" stroke-width="0.9"/>
<line x1="240.83487375728922" y1="314.2" x2="240.83487375728922" y2="316.59999999999997" stroke="#222" stroke-width="0.9"/>
<line x1="242.10686276027087" y1="314.2" x2="242.10686276027087" y2="316.59999999999997" stroke="#222" stroke-width="0.9"/>
<line x1="243.20870975284691" y1="314.2" x2="243.20870975284691" y2="316.59999999999997" stroke="#222" stroke-width="0.9"/>
<line x1="244.18060767934716" y1="314.2" x2="244.18060767934716" y2="316.59999999999997" stroke="#222" stroke-width="0.9"/>
<line x1="250.76956991761563" y1="314.2" x2="250.76956991761563" y2="316.59999999999997" stroke="#222" stroke-width="0.9"/>
<line x1="254.11530383967354" y1="314.2" x2="254.11530383967354" y2="316.59999999999997" stroke="#222" stroke-width="0.9"/>
<line x1="256.48913983523124" y1="314.2" x2="256.48913983523124" y2="316.59999999999997" stroke="#222" stroke-width="0.9"/>
<line x1="258.33043008238434" y1="314.2" x2="258.33043008238434" y2="316.59999999999997" stroke="#222" stroke-width="0.9"/>
<line x1="259.8348737572892" y1="314.2" x2="259.8348737572892" y2="316.59999999999997" stroke="#222" stroke-width="0.9"/>
<line x1="261.1068627602708" y1="314.2" x2="261.1068627602708" y2="316.59999999999997" stroke="#222" stroke-width="0.9"/>
<line x1="262.20870975284686" y1="314.2" x2="262.20870975284686" y2="316.59999999999997" stroke="#222" stroke-width="0.9"/>
<line x1="263.18060767934713" y1="314.2" x2="263.18060767934713" y2="316.59999999999997" stroke="#222" stroke-width="0.9"/>
<line x1="203.14499999999998" y1="314.2" x2="203.14499999999998" y2="316.59999999999997" stroke="#222" stroke-width="0.9"/>
<line x1="205.69" y1="314.2" x2="205.69" y2="316.59999999999997" stroke="#222" stroke-width="0.9"/>
<line x1="208.235" y1="314.2" x2="208.235" y2="316.59999999999997" stroke="#222" stroke-width="0.9"/>
<line x1="210.78" y1="314.2" x2="210.78" y2="316.59999999999997" stroke="#222" stroke-width="0.9"/>
<line x1="213.325" y1="314.2" x2="213.325" y2="316.59999999999997" stroke="#222" stroke-width="0.9"/>
<line x1="215.87" y1="314.2" x2="215.87" y2="316.59999999999997" stroke="#222" stroke-width="0.9"/>
<line x1="218.41500000000002" y1="314.2" x2="218.41500000000002" y2="316.59999999999997" stroke="#222" stroke-width="0.9"/>
<line x1="220.96" y1="314.2" x2="220.96" y2="316.59999999999997" stroke="#222" stroke-width="0.9"/>
<line x1="223.505" y1="314.2" x2="223.505" y2="316.59999999999997" stroke="#222" stroke-width="0.9"/>
<line x1="198.055" y1="314.2" x2="198.055" y2="316.59999999999997" stroke="#222" stroke-width="0.9"/>
<line x1="195.51" y1="314.2" x2="195.51" y2="316.59999999999997" stroke="#222" stroke-width="0.9"/>
<line x1="192.96499999999997" y1="314.2" x2="192.96499999999997" y2="316.59999999999997" stroke="#222" stroke-width="0.9"/>
<line x1="190.42" y1="314.2" x2="190.42" y2="316.59999999999997" stroke="#222" stroke-width="0.9"/>
<text x="200.6" y="328.0" font-size="8.6" fill="#333" stroke="#333" stroke-width="0.12" text-anchor="middle" textLength="4.0" lengthAdjust="spacingAndGlyphs">0</text>
<text x="221.9" y="328.0" font-size="8.6" fill="#333" stroke="#333" stroke-width="0.12" textLength="8.0" lengthAdjust="spacingAndGlyphs">10</text>
<text x="230.4" y="325.1" font-size="6.0" fill="#333" stroke="#333" stroke-width="0.15" textLength="3.2" lengthAdjust="spacingAndGlyphs">3</text>
<text x="241.0" y="328.0" font-size="8.6" fill="#333" stroke="#333" stroke-width="0.12" textLength="8.0" lengthAdjust="spacingAndGlyphs">10</text>
<text x="249.5" y="325.1" font-size="6.0" fill="#333" stroke="#333" stroke-width="0.15" textLength="3.2" lengthAdjust="spacingAndGlyphs">4</text>
<text x="259.9" y="328.0" font-size="8.6" fill="#333" stroke="#333" stroke-width="0.12" textLength="8.0" lengthAdjust="spacingAndGlyphs">10</text>
<text x="268.4" y="325.1" font-size="6.0" fill="#333" stroke="#333" stroke-width="0.15" textLength="3.2" lengthAdjust="spacingAndGlyphs">5</text>
<text x="209.8" y="246.4" font-size="8.6" fill="#C99050" stroke="#C99050" stroke-width="0.12" textLength="13.4" lengthAdjust="spacingAndGlyphs">316</text>
<text x="228.1" y="258.5" font-size="8.6" fill="#5e6672" stroke="#5e6672" stroke-width="0.12" textLength="13.0" lengthAdjust="spacingAndGlyphs">658</text>
<text x="195.2" y="262.8" font-size="8.6" fill="#49A9DA" stroke="#49A9DA" stroke-width="0.12" textLength="13.0" lengthAdjust="spacingAndGlyphs">196</text>
<text x="195.2" y="270.4" font-size="8.6" fill="#BE2C45" stroke="#BE2C45" stroke-width="0.12" textLength="13.0" lengthAdjust="spacingAndGlyphs">236</text>
<text x="367.5" y="215.5" font-size="9.4" fill="#222" stroke="#222" stroke-width="0.14" text-anchor="middle" textLength="75" lengthAdjust="spacingAndGlyphs">SA-<tspan font-style="italic">independent</tspan></text>
<text x="367.25" y="227.5" font-size="9.4" fill="#222" stroke="#222" stroke-width="0.14" text-anchor="middle" textLength="70.5" lengthAdjust="spacingAndGlyphs">Anti-HPA-3a P2</text>
<line x1="322.7" y1="313.6" x2="326.5" y2="313.6" stroke="#111" stroke-width="1"/>
<text x="320.6" y="316.5" font-size="8.5" fill="#333" stroke="#333" stroke-width="0.1" text-anchor="end" textLength="4.25" lengthAdjust="spacingAndGlyphs">0</text>
<line x1="322.7" y1="298.90000000000003" x2="326.5" y2="298.90000000000003" stroke="#111" stroke-width="1"/>
<text x="320.6" y="301.8" font-size="8.5" fill="#333" stroke="#333" stroke-width="0.1" text-anchor="end" textLength="8.5" lengthAdjust="spacingAndGlyphs">20</text>
<line x1="322.7" y1="284.20000000000005" x2="326.5" y2="284.20000000000005" stroke="#111" stroke-width="1"/>
<text x="320.6" y="287.1" font-size="8.5" fill="#333" stroke="#333" stroke-width="0.1" text-anchor="end" textLength="8.5" lengthAdjust="spacingAndGlyphs">40</text>
<line x1="322.7" y1="269.5" x2="326.5" y2="269.5" stroke="#111" stroke-width="1"/>
<text x="320.6" y="272.4" font-size="8.5" fill="#333" stroke="#333" stroke-width="0.1" text-anchor="end" textLength="8.5" lengthAdjust="spacingAndGlyphs">60</text>
<line x1="322.7" y1="254.8" x2="326.5" y2="254.8" stroke="#111" stroke-width="1"/>
<text x="320.6" y="257.7" font-size="8.5" fill="#333" stroke="#333" stroke-width="0.1" text-anchor="end" textLength="8.5" lengthAdjust="spacingAndGlyphs">80</text>
<line x1="322.7" y1="240.10000000000002" x2="326.5" y2="240.10000000000002" stroke="#111" stroke-width="1"/>
<text x="320.6" y="243.00000000000003" font-size="8.5" fill="#333" stroke="#333" stroke-width="0.1" text-anchor="end" textLength="12.75" lengthAdjust="spacingAndGlyphs">100</text>
<line x1="324.5" y1="309.925" x2="326.5" y2="309.925" stroke="#111" stroke-width="0.8"/>
<line x1="324.5" y1="306.25" x2="326.5" y2="306.25" stroke="#111" stroke-width="0.8"/>
<line x1="324.5" y1="302.57500000000005" x2="326.5" y2="302.57500000000005" stroke="#111" stroke-width="0.8"/>
<line x1="324.5" y1="295.225" x2="326.5" y2="295.225" stroke="#111" stroke-width="0.8"/>
<line x1="324.5" y1="291.55" x2="326.5" y2="291.55" stroke="#111" stroke-width="0.8"/>
<line x1="324.5" y1="287.875" x2="326.5" y2="287.875" stroke="#111" stroke-width="0.8"/>
<line x1="324.5" y1="280.52500000000003" x2="326.5" y2="280.52500000000003" stroke="#111" stroke-width="0.8"/>
<line x1="324.5" y1="276.85" x2="326.5" y2="276.85" stroke="#111" stroke-width="0.8"/>
<line x1="324.5" y1="273.175" x2="326.5" y2="273.175" stroke="#111" stroke-width="0.8"/>
<line x1="324.5" y1="265.82500000000005" x2="326.5" y2="265.82500000000005" stroke="#111" stroke-width="0.8"/>
<line x1="324.5" y1="262.15000000000003" x2="326.5" y2="262.15000000000003" stroke="#111" stroke-width="0.8"/>
<line x1="324.5" y1="258.475" x2="326.5" y2="258.475" stroke="#111" stroke-width="0.8"/>
<line x1="324.5" y1="251.12500000000003" x2="326.5" y2="251.12500000000003" stroke="#111" stroke-width="0.8"/>
<line x1="324.5" y1="247.45000000000002" x2="326.5" y2="247.45000000000002" stroke="#111" stroke-width="0.8"/>
<line x1="324.5" y1="243.77500000000003" x2="326.5" y2="243.77500000000003" stroke="#111" stroke-width="0.8"/>
<path d="M341.0 313.6 L342.5 311.5 L343.6 307.0 L344.8 300.0 L345.7 290.0 L346.7 280.0 L347.8 270.0 L348.9 260.0 L350.2 253.5 L351.5 249.7 L352.8 253.0 L354.2 260.0 L355.3 270.0 L356.4 280.0 L357.9 290.0 L359.6 300.0 L361.5 307.0 L363.9 312.0 L367.0 313.6 Z" fill="rgb(145,66,72)" fill-opacity="0.4" stroke="#A82840" stroke-width="0.7" stroke-linejoin="round"/>
<path d="M341.5 313.6 L342.8 310.5 L344.2 304.0 L345.4 294.0 L346.5 284.0 L347.6 274.0 L348.7 264.0 L349.8 256.0 L350.6 249.0 L351.4 244.0 L352.2 240.9 L353.0 244.5 L353.6 249.0 L354.6 258.0 L355.8 270.0 L357.0 282.0 L358.7 294.0 L360.6 304.0 L363.0 310.5 L366.0 313.6" fill="none" fill-opacity="1" stroke="#6f6f96" stroke-width="0.6" stroke-linejoin="round"/>
<path d="M350.4 250.5L351.4 244L352.2 240.9L353 244.5L353.6 250" fill="none" stroke="#5BB5E2" stroke-width="0.8"/>
<path d="M362.0 313.6 L364.5 313.0 L366.0 312.0 L368.0 308.0 L370.3 304.4 L372.0 303.2 L373.6 302.2 L375.5 297.0 L377.8 289.4 L379.5 282.0 L381.0 274.3 L382.4 266.0 L383.6 259.3 L384.6 256.0 L385.8 254.8 L386.8 256.0 L388.0 261.5 L388.8 268.0 L389.6 276.5 L390.9 285.0 L392.2 293.6 L393.6 299.5 L395.0 304.4 L396.6 307.5 L398.2 309.7 L400.0 312.5 L402.0 313.6 Z" fill="#F1D3B2" fill-opacity="1" stroke="#B08050" stroke-width="0.7" stroke-linejoin="round"/>
<path d="M362.3 314.2 L364.8 313.6 L366.3 312.6 L368.3 308.6 L370.6 305.0 L372.3 303.8 L373.9 302.8 L375.8 297.6 L378.1 290.0 L379.8 282.6 L381.3 274.9 L382.7 266.6 L383.9 259.9 L384.9 256.6 L386.1 255.4 L387.1 256.6 L388.3 262.1 L389.1 268.6 L389.9 277.1 L391.2 285.6 L392.5 294.2 L393.9 300.1 L395.3 305.0 L396.9 308.1 L398.5 310.3 L400.3 313.1 L402.3 314.2" fill="none" fill-opacity="1" stroke="#5f6878" stroke-width="0.5" stroke-linejoin="round"/>
<rect x="326.5" y="233.4" width="81.5" height="80.6" fill="none" stroke="#111" stroke-width="1.3"/>
<line x1="335.4" y1="314.0" x2="335.4" y2="317.3" stroke="#111" stroke-width="1"/>
<line x1="361.04999999999995" y1="314.0" x2="361.04999999999995" y2="317.3" stroke="#111" stroke-width="1"/>
<line x1="378.95" y1="314.0" x2="378.95" y2="317.3" stroke="#111" stroke-width="1"/>
<line x1="397.75" y1="314.0" x2="397.75" y2="317.3" stroke="#111" stroke-width="1"/>
<line x1="366.57390042043403" y1="314.0" x2="366.57390042043403" y2="316.4" stroke="#222" stroke-width="0.9"/>
<line x1="369.8051750241058" y1="314.0" x2="369.8051750241058" y2="316.4" stroke="#222" stroke-width="0.9"/>
<line x1="372.0978008408681" y1="314.0" x2="372.0978008408681" y2="316.4" stroke="#222" stroke-width="0.9"/>
<line x1="373.8760995795659" y1="314.0" x2="373.8760995795659" y2="316.4" stroke="#222" stroke-width="0.9"/>
<line x1="375.32907544453985" y1="314.0" x2="375.32907544453985" y2="316.4" stroke="#222" stroke-width="0.9"/>
<line x1="376.55754903426157" y1="314.0" x2="376.55754903426157" y2="316.4" stroke="#222" stroke-width="0.9"/>
<line x1="377.6217012613021" y1="314.0" x2="377.6217012613021" y2="316.4" stroke="#222" stroke-width="0.9"/>
<line x1="378.5603500482116" y1="314.0" x2="378.5603500482116" y2="316.4" stroke="#222" stroke-width="0.9"/>
<line x1="384.92390042043405" y1="314.0" x2="384.92390042043405" y2="316.4" stroke="#222" stroke-width="0.9"/>
<line x1="388.1551750241058" y1="314.0" x2="388.1551750241058" y2="316.4" stroke="#222" stroke-width="0.9"/>
<line x1="390.4478008408681" y1="314.0" x2="390.4478008408681" y2="316.4" stroke="#222" stroke-width="0.9"/>
<line x1="392.2260995795659" y1="314.0" x2="392.2260995795659" y2="316.4" stroke="#222" stroke-width="0.9"/>
<line x1="393.6790754445399" y1="314.0" x2="393.6790754445399" y2="316.4" stroke="#222" stroke-width="0.9"/>
<line x1="394.9075490342616" y1="314.0" x2="394.9075490342616" y2="316.4" stroke="#222" stroke-width="0.9"/>
<line x1="395.97170126130214" y1="314.0" x2="395.97170126130214" y2="316.4" stroke="#222" stroke-width="0.9"/>
<line x1="396.9103500482116" y1="314.0" x2="396.9103500482116" y2="316.4" stroke="#222" stroke-width="0.9"/>
<line x1="337.965" y1="314.0" x2="337.965" y2="316.4" stroke="#222" stroke-width="0.9"/>
<line x1="340.53" y1="314.0" x2="340.53" y2="316.4" stroke="#222" stroke-width="0.9"/>
<line x1="343.09499999999997" y1="314.0" x2="343.09499999999997" y2="316.4" stroke="#222" stroke-width="0.9"/>
<line x1="345.65999999999997" y1="314.0" x2="345.65999999999997" y2="316.4" stroke="#222" stroke-width="0.9"/>
<line x1="348.22499999999997" y1="314.0" x2="348.22499999999997" y2="316.4" stroke="#222" stroke-width="0.9"/>
<line x1="350.78999999999996" y1="314.0" x2="350.78999999999996" y2="316.4" stroke="#222" stroke-width="0.9"/>
<line x1="353.35499999999996" y1="314.0" x2="353.35499999999996" y2="316.4" stroke="#222" stroke-width="0.9"/>
<line x1="355.91999999999996" y1="314.0" x2="355.91999999999996" y2="316.4" stroke="#222" stroke-width="0.9"/>
<line x1="358.48499999999996" y1="314.0" x2="358.48499999999996" y2="316.4" stroke="#222" stroke-width="0.9"/>
<line x1="332.835" y1="314.0" x2="332.835" y2="316.4" stroke="#222" stroke-width="0.9"/>
<line x1="330.27" y1="314.0" x2="330.27" y2="316.4" stroke="#222" stroke-width="0.9"/>
<line x1="327.705" y1="314.0" x2="327.705" y2="316.4" stroke="#222" stroke-width="0.9"/>
<line x1="325.14" y1="314.0" x2="325.14" y2="316.4" stroke="#222" stroke-width="0.9"/>
<text x="335.4" y="328.0" font-size="8.6" fill="#333" stroke="#333" stroke-width="0.12" text-anchor="middle" textLength="4.0" lengthAdjust="spacingAndGlyphs">0</text>
<text x="356.9" y="328.0" font-size="8.6" fill="#333" stroke="#333" stroke-width="0.12" textLength="8.0" lengthAdjust="spacingAndGlyphs">10</text>
<text x="365.4" y="325.1" font-size="6.0" fill="#333" stroke="#333" stroke-width="0.15" textLength="3.2" lengthAdjust="spacingAndGlyphs">3</text>
<text x="374.8" y="328.0" font-size="8.6" fill="#333" stroke="#333" stroke-width="0.12" textLength="8.0" lengthAdjust="spacingAndGlyphs">10</text>
<text x="383.3" y="325.1" font-size="6.0" fill="#333" stroke="#333" stroke-width="0.15" textLength="3.2" lengthAdjust="spacingAndGlyphs">4</text>
<text x="393.6" y="328.0" font-size="8.6" fill="#333" stroke="#333" stroke-width="0.12" textLength="8.0" lengthAdjust="spacingAndGlyphs">10</text>
<text x="402.1" y="325.1" font-size="6.0" fill="#333" stroke="#333" stroke-width="0.15" textLength="3.2" lengthAdjust="spacingAndGlyphs">5</text>
<text x="331.4" y="252.2" font-size="8.6" fill="#49A9DA" stroke="#49A9DA" stroke-width="0.12" textLength="12.8" lengthAdjust="spacingAndGlyphs">334</text>
<text x="331.4" y="263.7" font-size="8.6" fill="#BE2C45" stroke="#BE2C45" stroke-width="0.12" textLength="12.8" lengthAdjust="spacingAndGlyphs">333</text>
<text x="377.1" y="243.2" font-size="8.6" fill="#C99050" stroke="#C99050" stroke-width="0.12" textLength="22.7" lengthAdjust="spacingAndGlyphs">14565</text>
<text x="377.1" y="252.2" font-size="8.6" fill="#5e6672" stroke="#5e6672" stroke-width="0.12" textLength="22.7" lengthAdjust="spacingAndGlyphs">13627</text>
<text x="440.5" y="254.8" font-size="8.4" fill="#444" stroke="#444" stroke-width="0.1" textLength="28.1" lengthAdjust="spacingAndGlyphs">Legend</text>
<line x1="440.5" y1="256.2" x2="468.6" y2="256.2" stroke="#555" stroke-width="0.7"/>
<text x="440.5" y="266.8" font-size="8.2" fill="#5e6672" stroke="#5e6672" stroke-width="0.1" textLength="25.5" lengthAdjust="spacingAndGlyphs">3a cells</text>
<text x="440.5" y="278.4" font-size="8.2" fill="#D39257" stroke="#D39257" stroke-width="0.1" textLength="50.2" lengthAdjust="spacingAndGlyphs">3a cells + Neu</text>
<text x="440.5" y="290.0" font-size="8.2" fill="#52B1E0" stroke="#52B1E0" stroke-width="0.1" textLength="25.5" lengthAdjust="spacingAndGlyphs">3b cells</text>
<text x="440.5" y="302.2" font-size="8.2" fill="#C02A48" stroke="#C02A48" stroke-width="0.1" textLength="50.2" lengthAdjust="spacingAndGlyphs">3b cells + Neu</text>
</svg>
</body></html>
